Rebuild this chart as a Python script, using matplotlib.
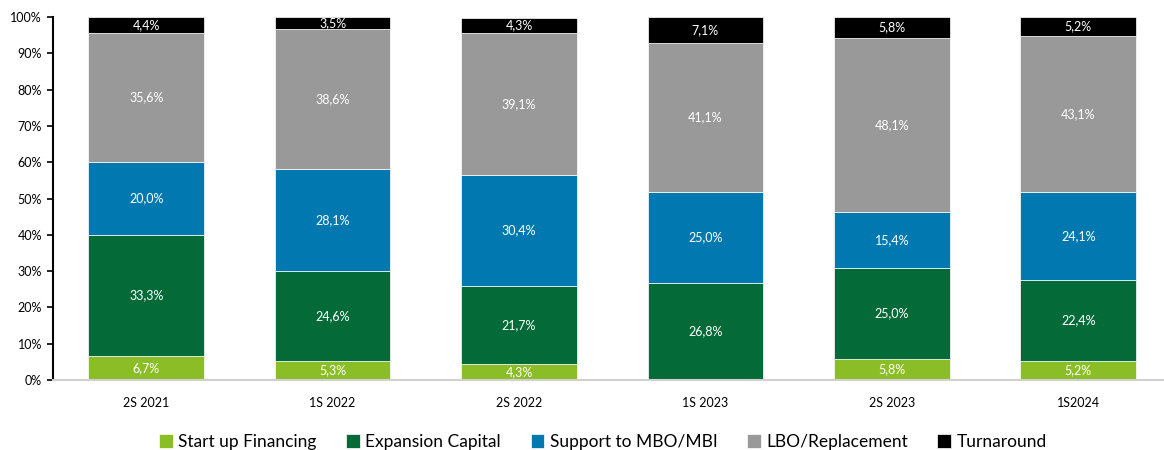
import matplotlib
matplotlib.use("Agg")
import matplotlib.pyplot as plt
import numpy as np

plt.rcParams['font.family'] = ['Lato', 'DejaVu Sans']

categories = ["2S 2021", "1S 2022", "2S 2022", "1S 2023", "2S 2023", "1S2024"]
series_names = ["Start up Financing", "Expansion Capital", "Support to MBO/MBI", "LBO/Replacement", "Turnaround"]
startup = [6.7, 5.3, 4.3, 0.0, 5.8, 5.2]
expansion = [33.3, 24.6, 21.7, 26.8, 25.0, 22.4]
mbo = [20.0, 28.1, 30.4, 25.0, 15.4, 24.1]
lbo = [35.6, 38.6, 39.1, 41.1, 48.1, 43.1]
turnaround = [4.4, 3.5, 4.3, 7.1, 5.8, 5.2]
colors = ["#8BBD26", "#046A38", "#0179B0", "#999999", "#000000"]

fig = plt.figure(figsize=(11.64, 4.5), dpi=100)
ax = fig.add_axes([53/1164, 1-380/450, 1-53/1164, (380-17)/450])

x = np.arange(len(categories))
bottom = np.zeros(len(categories))
handles = []
for name, vals, col in zip(series_names, [startup, expansion, mbo, lbo, turnaround], colors):
    v = np.array(vals)
    h = ax.bar(x, v, 0.62, bottom=bottom, color=col, edgecolor='white', linewidth=0.5, label=name)
    handles.append(h)
    for xi, vi, bi in zip(x, v, bottom):
        if vi > 0:
            ax.text(xi, bi + vi / 2, f"{vi:.1f}%".replace('.', ','), ha='center', va='center',
                    color='white', fontsize=9)
    bottom += v

ax.set_xlim(-0.5, 5.46)
ax.set_ylim(0, 100)
ax.set_yticks(np.arange(0, 101, 10))
ax.set_yticklabels([f"{t}%" for t in range(0, 101, 10)], fontsize=9)
ax.set_xticks(x)
ax.set_xticklabels(categories, fontsize=9)
ax.tick_params(axis='x', length=0, pad=12)
ax.tick_params(axis='y', length=4, width=1.2, direction='out', pad=4)
for s in ['top', 'right']:
    ax.spines[s].set_visible(False)
ax.spines['left'].set_color('black')
ax.spines['left'].set_linewidth(1.5)
ax.spines['bottom'].set_color('#D0D0D0')
ax.spines['bottom'].set_linewidth(1.5)

fig.legend(handles=handles, loc='center', bbox_to_anchor=(603/1164, 1-442/450), ncol=5,
           frameon=False, fontsize=12.5, handlelength=0.8, handleheight=0.8, handletextpad=0.3,
           columnspacing=1.7)

fig.savefig("out.png", dpi=100)
